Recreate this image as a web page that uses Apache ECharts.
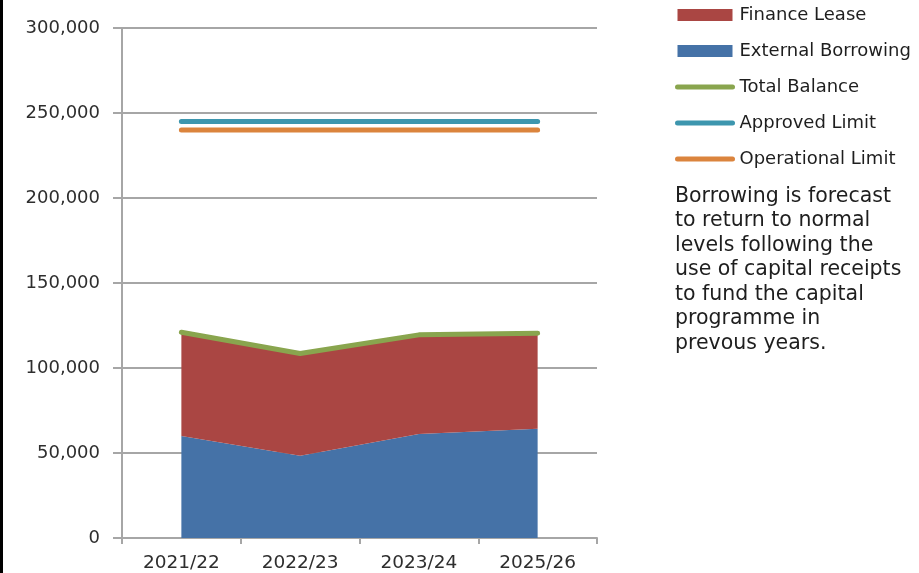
<!DOCTYPE html>
<html>
<head>
<meta charset="utf-8">
<script src="https://cdn.jsdelivr.net/npm/echarts@6/dist/echarts.min.js"></script>
<style>
  html, body { margin: 0; padding: 0; background: #ffffff; }
  #chart { width: 919px; height: 573px; }
</style>
</head>
<body>
<div id="chart"></div>
<script>
// Financial years on the category axis
var years = ['2021/22', '2022/23', '2023/24', '2025/26'];

// Borrowing components (stacked areas)
var externalBorrowing = [60000, 48400, 61200, 64300];
var financeLease = [61000, 60100, 58300, 56200];

// Lines
var totalBalance = [121000, 108500, 119500, 120500];
var approvedLimit = [245000, 245000, 245000, 245000];
var operationalLimit = [240000, 240000, 240000, 240000];

// Value axis ticks
var yMin = 0, yMax = 300000, yStep = 50000;

var note = 'Borrowing is forecast\nto return to normal\nlevels following the\nuse of capital receipts\nto fund the capital\nprogramme in\nprevous years.';

var FONT = 'DejaVu Sans';
var chart = echarts.init(document.getElementById('chart'), null, { renderer: 'canvas' });

// Legend entry for a line series: a thick rounded stroke, no marker
function lineKey(name) {
  return { name: name, itemStyle: { opacity: 0 }, lineStyle: { width: 5, cap: 'round', opacity: 1 } };
}

chart.setOption({
  animation: false,
  backgroundColor: '#ffffff',
  textStyle: { fontFamily: FONT },
  title: {
    text: note,
    left: 675,
    top: 184,
    padding: 0,
    textStyle: { fontFamily: FONT, fontSize: 20.5, fontWeight: 'normal', color: '#1e1e1e', lineHeight: 24.5 }
  },
  legend: {
    orient: 'vertical',
    left: 675,
    top: 5,
    padding: 0,
    itemWidth: 55,
    itemHeight: 12,
    itemGap: 16,
    lineStyle: { width: 5, cap: 'round' },
    textStyle: { fontFamily: FONT, fontSize: 18, color: '#1e1e1e', lineHeight: 20, padding: [0, 0, 0, 2] },
    data: [
      { name: 'Finance Lease', icon: 'rect' },
      { name: 'External Borrowing', icon: 'rect' },
      lineKey('Total Balance'),
      lineKey('Approved Limit'),
      lineKey('Operational Limit')
    ]
  },
  grid: { left: 122, right: 322, top: 28, bottom: 35, containLabel: false },
  xAxis: {
    type: 'category',
    data: years,
    boundaryGap: true,
    axisLine: { lineStyle: { color: '#a6a6a6', width: 2 } },
    axisTick: { show: true, length: 6, lineStyle: { color: '#a6a6a6', width: 2 } },
    axisLabel: { fontFamily: FONT, fontSize: 18.5, color: '#2e2e2e', margin: 16 }
  },
  yAxis: {
    type: 'value',
    min: yMin,
    max: yMax,
    interval: yStep,
    axisLine: { show: true, lineStyle: { color: '#a6a6a6', width: 2 } },
    axisTick: { show: true, length: 9, lineStyle: { color: '#a6a6a6', width: 2 } },
    splitLine: { show: true, lineStyle: { color: '#a6a6a6', width: 2 } },
    axisLabel: {
      fontFamily: FONT, fontSize: 18, color: '#2e2e2e', margin: 22,
      formatter: function (v) { return v.toLocaleString('en-GB'); }
    }
  },
  series: [
    {
      name: 'External Borrowing',
      type: 'line',
      stack: 'debt',
      data: externalBorrowing,
      symbol: 'none',
      lineStyle: { width: 0 },
      areaStyle: { color: '#4572A7', opacity: 1 },
      itemStyle: { color: '#4572A7' },
      z: 1
    },
    {
      name: 'Finance Lease',
      type: 'line',
      stack: 'debt',
      data: financeLease,
      symbol: 'none',
      lineStyle: { width: 0 },
      areaStyle: { color: '#AA4643', opacity: 1 },
      itemStyle: { color: '#AA4643' },
      z: 1
    },
    {
      name: 'Total Balance',
      type: 'line',
      data: totalBalance,
      symbol: 'none',
      lineStyle: { color: '#89A54E', width: 5, cap: 'round', join: 'round' },
      itemStyle: { color: '#89A54E' },
      z: 3
    },
    {
      name: 'Approved Limit',
      type: 'line',
      data: approvedLimit,
      symbol: 'none',
      lineStyle: { color: '#3D96AE', width: 5, cap: 'round' },
      itemStyle: { color: '#3D96AE' },
      z: 3
    },
    {
      name: 'Operational Limit',
      type: 'line',
      data: operationalLimit,
      symbol: 'none',
      lineStyle: { color: '#DB843D', width: 5, cap: 'round' },
      itemStyle: { color: '#DB843D' },
      z: 3
    }
  ],
  graphic: [
    { type: 'rect', left: 0, top: 0, shape: { width: 3, height: 573 }, style: { fill: '#000' }, silent: true }
  ]
});
</script>
</body>
</html>
